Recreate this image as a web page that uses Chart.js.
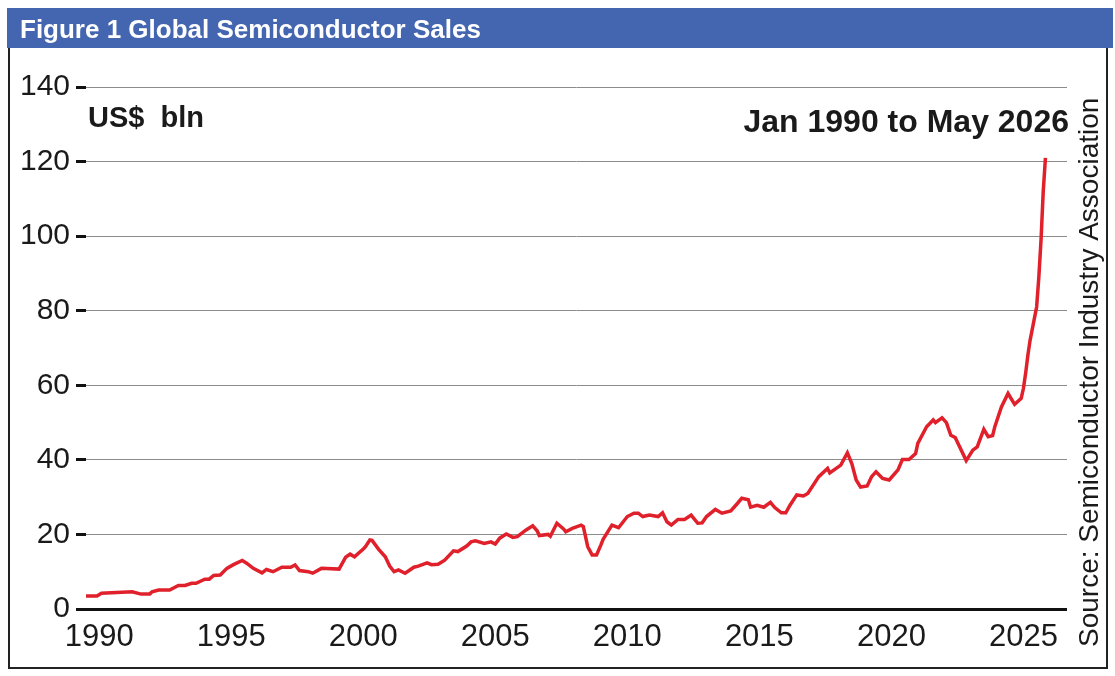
<!DOCTYPE html>
<html>
<head>
<meta charset="utf-8">
<script src="https://cdn.jsdelivr.net/npm/chart.js@4"></script>
<style>
  body { margin: 0; background: #fff; }
  #wrap { width: 1115px; height: 676px; position: relative; }
</style>
</head>
<body>
<div id="wrap"><canvas id="canvas_sales" width="1115" height="676"></canvas></div>
<script>
// monthly readings, Jan 1990 - May 2026 (US$ bln)
const months = [
  "1990-01", "1990-06", "1990-08", "1991-10", "1992-02", "1992-06", "1992-07", "1992-10",
  "1993-03", "1993-07", "1993-10", "1994-01", "1994-03", "1994-07", "1994-09", "1994-11",
  "1995-02", "1995-05", "1995-08", "1995-12", "1996-02", "1996-05", "1996-09", "1996-11",
  "1997-02", "1997-06", "1997-10", "1997-12", "1998-02", "1998-06", "1998-08", "1998-12",
  "1999-08", "1999-11", "2000-01", "2000-03", "2000-07", "2000-08", "2000-10", "2000-11",
  "2001-02", "2001-05", "2001-07", "2001-09", "2001-11", "2002-02", "2002-06", "2002-08",
  "2002-12", "2003-02", "2003-05", "2003-08", "2003-12", "2004-02", "2004-06", "2004-08",
  "2004-10", "2005-02", "2005-05", "2005-07", "2005-09", "2005-12", "2006-03", "2006-05",
  "2006-09", "2006-12", "2007-02", "2007-03", "2007-07", "2007-08", "2007-11", "2008-02",
  "2008-03", "2008-06", "2008-10", "2008-11", "2009-01", "2009-03", "2009-05", "2009-07",
  "2009-08", "2009-12", "2010-03", "2010-07", "2010-10", "2010-12", "2011-02", "2011-05",
  "2011-09", "2011-11", "2012-01", "2012-03", "2012-06", "2012-09", "2012-12", "2013-03",
  "2013-05", "2013-07", "2013-11", "2014-02", "2014-06", "2014-09", "2014-11", "2015-02",
  "2015-03", "2015-06", "2015-09", "2015-12", "2016-02", "2016-05", "2016-07", "2016-09",
  "2016-12", "2017-03", "2017-05", "2017-10", "2018-02", "2018-03", "2018-08", "2018-11",
  "2019-01", "2019-03", "2019-05", "2019-08", "2019-10", "2019-12", "2020-03", "2020-06",
  "2020-10", "2020-12", "2021-03", "2021-06", "2021-07", "2021-11", "2022-02", "2022-03",
  "2022-06", "2022-08", "2022-10", "2022-12", "2023-05", "2023-08", "2023-10", "2024-01",
  "2024-03", "2024-05", "2024-06", "2024-09", "2024-12", "2025-03", "2025-06", "2025-07",
  "2025-08", "2025-09", "2025-10", "2025-11", "2025-12", "2026-01", "2026-02", "2026-03",
  "2026-04", "2026-05"
];
const sales = [
  3.5, 3.5, 4.2, 4.6, 4.0, 4.0, 4.6, 5.1,
  5.1, 6.3, 6.3, 6.9, 6.9, 8.0, 8.0, 9.0,
  9.1, 10.9, 11.9, 13.0, 12.3, 10.9, 9.7, 10.6,
  10.0, 11.2, 11.2, 11.8, 10.3, 10.0, 9.6, 10.9,
  10.7, 13.9, 14.7, 14.0, 16.1, 16.7, 18.5, 18.4,
  16.0, 14.0, 11.5, 10.0, 10.5, 9.6, 11.2, 11.5,
  12.4, 11.9, 12.0, 13.1, 15.6, 15.4, 16.9, 18.0,
  18.3, 17.6, 18.0, 17.4, 19.0, 20.1, 19.2, 19.4,
  21.2, 22.3, 21.0, 19.7, 20.0, 19.5, 23.0, 21.5,
  20.7, 21.6, 22.5, 22.1, 16.7, 14.5, 14.5, 17.2,
  18.7, 22.5, 21.8, 24.8, 25.7, 25.7, 24.8, 25.2,
  24.8, 25.8, 23.4, 22.5, 24.0, 24.0, 25.2, 23.0,
  23.1, 24.8, 26.7, 25.7, 26.3, 28.3, 29.7, 29.3,
  27.3, 27.8, 27.3, 28.6, 27.2, 25.8, 25.8, 27.9,
  30.6, 30.3, 31.0, 35.5, 37.7, 36.5, 38.6, 41.9,
  39.0, 34.6, 32.7, 33.0, 35.5, 36.8, 35.0, 34.6,
  37.3, 40.1, 40.1, 41.7, 44.4, 48.9, 50.7, 50.0,
  51.3, 50.0, 46.6, 46.0, 39.8, 42.6, 43.5, 48.2,
  46.2, 46.5, 48.9, 54.2, 57.8, 54.9, 56.5, 59.2,
  63.2, 68.0, 72.0, 75.0, 78.0, 81.0, 89.0, 99.0,
  112.0, 121.0
];
const tickYears = [1990, 1995, 2000, 2005, 2010, 2015, 2020, 2025];
const yTicks = [0, 20, 40, 60, 80, 100, 120, 140];

const titleText = "Figure 1 Global Semiconductor Sales";
const unitText = "US$  bln";
const periodText = "Jan 1990 to May 2026";
const sourceText = "Source: Semiconductor Industry Association";

const points = months.map((m, i) => {
  const [yy, mm] = m.split("-").map(Number);
  return { x: yy + (mm - 1) / 12, y: sales[i] };
});

const frame = {
  id: "frame",
  beforeDraw(chart) {
    const ctx = chart.ctx;
    ctx.save();
    ctx.fillStyle = "#fff";
    ctx.fillRect(0, 0, chart.width, chart.height);
    // title bar
    ctx.fillStyle = "#4466b0";
    ctx.fillRect(7, 8, 1106, 40);
    ctx.fillStyle = "#fff";
    ctx.font = "bold 26px 'Liberation Sans', Arial, sans-serif";
    ctx.textBaseline = "alphabetic";
    ctx.fillText(titleText, 20, 38);
    // box
    ctx.strokeStyle = "#222";
    ctx.lineWidth = 2;
    ctx.beginPath();
    ctx.moveTo(9, 48);
    ctx.lineTo(9, 668);
    ctx.lineTo(1107, 668);
    ctx.lineTo(1107, 48);
    ctx.stroke();
    ctx.restore();
  },
  afterDraw(chart) {
    const ctx = chart.ctx;
    ctx.save();
    ctx.fillStyle = "#1a1a1a";
    ctx.font = "bold 29px 'Liberation Sans', Arial, sans-serif";
    ctx.textAlign = "left";
    ctx.fillText(unitText, 88, 127);
    ctx.font = "bold 32px 'Liberation Sans', Arial, sans-serif";
    ctx.textAlign = "right";
    ctx.fillText(periodText, 1069, 132);
    // rotated source note
    ctx.translate(1098, 647);
    ctx.rotate(-Math.PI / 2);
    ctx.textAlign = "left";
    ctx.font = "28px 'Liberation Sans', Arial, sans-serif";
    ctx.fillText(sourceText, 0, 0);
    ctx.restore();
  }
};

const config = {
  type: "line",
  data: {
    datasets: [
      {
        label: "Global semiconductor sales",
        data: points,
        borderColor: "#e0202a",
        borderWidth: 3.5,
        pointRadius: 0,
        tension: 0,
        fill: false,
      },
    ],
  },
  options: {
    responsive: false,
    animation: false,
    layout: {
      padding: { top: 87, right: 48, left: 0, bottom: 0 },
    },
    scales: {
      x: {
        type: "linear",
        min: 1990,
        max: 2027.15,
        afterBuildTicks: (scale) => {
          scale.ticks = tickYears.map((y) => ({ value: y + 0.5 }));
        },
        afterFit: (scale) => {
          scale.height = 67;
        },
        grid: { display: false, drawTicks: false },
        border: { display: false },
        ticks: {
          autoSkip: false,
          maxRotation: 0,
          padding: 10,
          color: "#1a1a1a",
          font: { family: "'Liberation Sans', Arial, sans-serif", size: 31 },
          callback: (v) => Math.floor(v),
        },
      },
      y: {
        min: 0,
        max: 140,
        afterBuildTicks: (scale) => {
          scale.ticks = yTicks.map((v) => ({ value: v }));
        },
        afterFit: (scale) => {
          scale.width = 86;
        },
        border: { display: false },
        grid: {
          color: (c) => (c.tick && c.tick.value === 0 ? "#111" : "#8c8c8c"),
          lineWidth: (c) => (c.tick && c.tick.value === 0 ? 3 : 1),
          tickLength: 10,
          tickColor: "#111",
          tickWidth: 3,
        },
        ticks: {
          padding: 6,
          color: "#1a1a1a",
          font: { family: "'Liberation Sans', Arial, sans-serif", size: 30 },
        },
      },
    },
    plugins: {
      legend: { display: false },
      tooltip: { enabled: false },
      title: { display: false },
    },
  },
  plugins: [frame],
};

window.chart = new Chart(document.getElementById("canvas_sales"), config);
</script>
</body>
</html>
